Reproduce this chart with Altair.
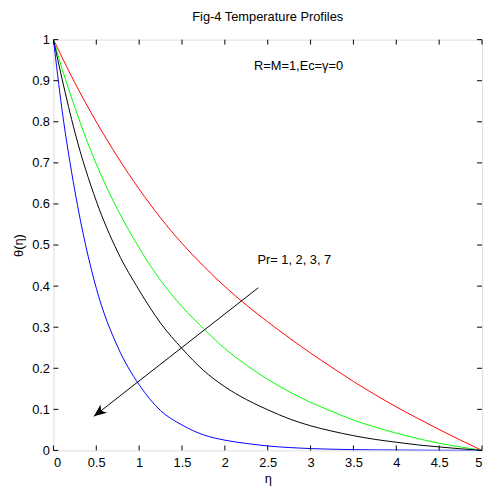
import altair as alt
import pandas as pd

# ---- data ----
eta = [0, 0.1, 0.25, 0.5, 0.75, 1.0, 1.25, 1.5, 1.75, 2.0, 2.25, 2.5, 2.75, 3.0, 3.25, 3.5, 3.75, 4.0, 4.25, 4.5, 4.75, 5.0]
theta_pr1 = [1, 0.957, 0.895, 0.80, 0.714, 0.636, 0.566, 0.504, 0.449, 0.399, 0.354, 0.313, 0.274, 0.237, 0.202, 0.168, 0.136, 0.106, 0.078, 0.051, 0.025, 0]
theta_pr2 = [1, 0.93, 0.835, 0.697, 0.586, 0.493, 0.414, 0.350, 0.297, 0.248, 0.208, 0.173, 0.143, 0.117, 0.095, 0.074, 0.057, 0.042, 0.029, 0.0175, 0.0085, 0]
theta_pr3 = [1, 0.905, 0.775, 0.607, 0.483, 0.390, 0.310, 0.248, 0.195, 0.155, 0.124, 0.099, 0.077, 0.060, 0.047, 0.036, 0.027, 0.020, 0.0135, 0.0085, 0.004, 0]
theta_pr7 = [1, 0.83, 0.632, 0.395, 0.252, 0.160, 0.097, 0.062, 0.038, 0.025, 0.017, 0.011, 0.007, 0.0045, 0.003, 0.002, 0.0014, 0.001, 0.0007, 0.0004, 0.0002, 0]

series_names = ["Pr=1", "Pr=2", "Pr=3", "Pr=7"]
series_colors = ["#ff0000", "#00ff00", "#000000", "#0000ff"]
series_vals = [theta_pr1, theta_pr2, theta_pr3, theta_pr7]

x_ticks = [0, 0.5, 1, 1.5, 2, 2.5, 3, 3.5, 4, 4.5, 5]
y_ticks = [0, 0.1, 0.2, 0.3, 0.4, 0.5, 0.6, 0.7, 0.8, 0.9, 1]

arrow_x = [2.39, 0.472]
arrow_y = [0.396, 0.083]

notes_text = ["R=M=1,Ec=\u03b3=0", "Pr= 1, 2, 3, 7"]
notes_x = [2.34, 2.38]
notes_y = [0.935, 0.464]

W, H = 434, 416
FONT = "Liberation Sans"

rows = []
for name, vals in zip(series_names, series_vals):
    for e, t in zip(eta, vals):
        rows.append({"eta": e, "theta": t, "series": name})
df = pd.DataFrame(rows)

xs = alt.Scale(domain=[0, 5], nice=False, zero=False)
ys = alt.Scale(domain=[0, 1], nice=False, zero=False)

lines = alt.Chart(df).mark_line(strokeWidth=1, interpolate="monotone", clip=True).encode(
    x=alt.X("eta:Q", scale=xs,
            axis=alt.Axis(values=x_ticks, format="~g", tickSize=0, domain=False, grid=False,
                          labelPadding=6, labelFont=FONT, labelFontSize=13, labelColor="black",
                          title="\u03b7", titleFont=FONT, titleFontSize=13, titleFontWeight="normal",
                          titleColor="black", titleY=32, titleBaseline="alphabetic")),
    y=alt.Y("theta:Q", scale=ys,
            axis=alt.Axis(values=y_ticks, format="~g", tickSize=0, domain=False, grid=False,
                          labelPadding=4, labelFont=FONT, labelFontSize=13, labelColor="black",
                          title="\u03b8(\u03b7)", titleFont=FONT, titleFontSize=13, titleFontWeight="normal",
                          titleColor="black", titleX=-35, titleY=208, titleBaseline="middle")),
    color=alt.Color("series:N", scale=alt.Scale(domain=series_names, range=series_colors), legend=None),
    detail="series:N",
)

xt = pd.DataFrame({"v": x_ticks})
yt = pd.DataFrame({"v": y_ticks})

xtick_bot = alt.Chart(xt).mark_rule(color="black", strokeWidth=1).encode(
    x=alt.X("v:Q", scale=xs), y=alt.value(H), y2=alt.value(H - 5))
xtick_top = alt.Chart(xt).mark_rule(color="black", strokeWidth=1).encode(
    x=alt.X("v:Q", scale=xs), y=alt.value(0), y2=alt.value(5))
ytick_l = alt.Chart(yt).mark_rule(color="black", strokeWidth=1).encode(
    y=alt.Y("v:Q", scale=ys), x=alt.value(0), x2=alt.value(5))
ytick_r = alt.Chart(yt).mark_rule(color="black", strokeWidth=1).encode(
    y=alt.Y("v:Q", scale=ys), x=alt.value(W), x2=alt.value(W - 5))

arr = pd.DataFrame({"x1": [arrow_x[0]], "y1": [arrow_y[0]], "x2": [arrow_x[1]], "y2": [arrow_y[1]]})
arrow_line = alt.Chart(arr).mark_rule(color="black", strokeWidth=1).encode(
    x=alt.X("x1:Q", scale=xs), y=alt.Y("y1:Q", scale=ys),
    x2="x2:Q", y2="y2:Q")
arrow_head = alt.Chart(arr).mark_point(
    shape="M0,0 L0.42,1 L0,0.72 L-0.42,1 Z", filled=True, color="black", opacity=1,
    size=650, angle=232, strokeWidth=0).encode(
    x=alt.X("x2:Q", scale=xs), y=alt.Y("y2:Q", scale=ys))

notes = pd.DataFrame({"t": notes_text, "x": notes_x, "y": notes_y})
note_marks = alt.Chart(notes).mark_text(align="left", baseline="middle", font=FONT, fontSize=13,
                                        color="black").encode(
    x=alt.X("x:Q", scale=xs), y=alt.Y("y:Q", scale=ys), text="t:N")

chart = alt.layer(lines, xtick_bot, xtick_top, ytick_l, ytick_r, arrow_line, arrow_head, note_marks).properties(
    width=W, height=H,
    title=alt.TitleParams("Fig-4 Temperature Profiles", font=FONT, fontSize=13, fontWeight="normal",
                          color="black", offset=10),
    autosize=alt.AutoSizeParams(type="none"),
    padding={"left": 46, "top": 29, "right": 1, "bottom": 34},
).configure_view(stroke="black", strokeWidth=1).configure(background="white")

chart.save("out.html", embed_options={"renderer": "svg", "actions": False})
